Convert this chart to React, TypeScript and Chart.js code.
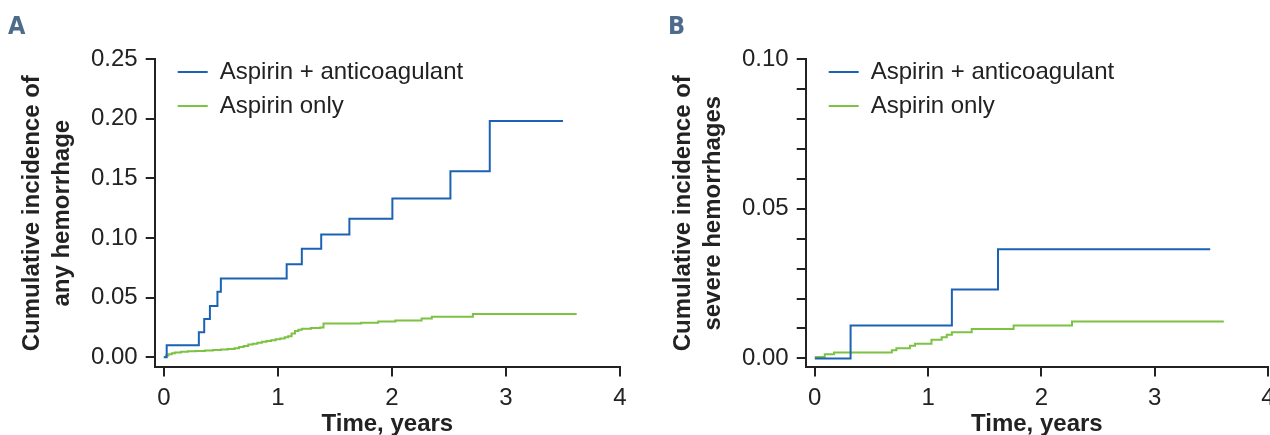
import React, { useEffect, useRef } from 'react';
import { Chart, ChartConfiguration } from 'chart.js/auto';

const seriesNames = ['Aspirin + anticoagulant', 'Aspirin only'];
const seriesColors = ['#1b62b5', '#7cc243'];
const xTicks = [0, 1, 2, 3, 4];

// A: any hemorrhage
const anyComboYears = [0, 0.025, 0.307, 0.354, 0.404, 0.47, 0.5, 1.077, 1.21, 1.38, 1.627, 2.004, 2.513, 2.858, 3.5];
const anyComboInc = [0, 0.0101, 0.021, 0.032, 0.043, 0.055, 0.066, 0.078, 0.091, 0.103, 0.116, 0.133, 0.156, 0.198, 0.198];
const anyAspYears = [0, 0.02, 0.04, 0.07, 0.096, 0.15, 0.21, 0.28, 0.36, 0.43, 0.5, 0.56, 0.62, 0.66, 0.7, 0.74, 0.78, 0.82, 0.86, 0.9, 0.94, 0.98, 1.02, 1.06, 1.09, 1.12, 1.15, 1.18, 1.21, 1.29, 1.37, 1.4, 1.73, 1.88, 2.03, 2.26, 2.35, 2.71, 3.62];
const anyAspInc = [0.0003, 0.0015, 0.0025, 0.0033, 0.004, 0.0046, 0.005, 0.0053, 0.0056, 0.006, 0.0065, 0.007, 0.0076, 0.0085, 0.0095, 0.0107, 0.0114, 0.0122, 0.0129, 0.0136, 0.0143, 0.015, 0.0157, 0.0167, 0.0177, 0.02, 0.0221, 0.023, 0.0238, 0.0245, 0.025, 0.0283, 0.0289, 0.0299, 0.0309, 0.0325, 0.034, 0.0362, 0.0362];
const anyYTicks = [0, 0.05, 0.1, 0.15, 0.2, 0.25];

// B: severe hemorrhages
const sevComboYears = [0, 0.316, 1.21, 1.617, 3.49];
const sevComboInc = [0, 0.011, 0.023, 0.0365, 0.0365];
const sevAspYears = [0, 0.088, 0.17, 0.68, 0.72, 0.84, 0.885, 1.03, 1.12, 1.165, 1.21, 1.385, 1.755, 2.27, 3.61];
const sevAspInc = [0.0005, 0.0014, 0.002, 0.0027, 0.0034, 0.0042, 0.0049, 0.0062, 0.0071, 0.0079, 0.0087, 0.0098, 0.011, 0.0123, 0.0123];
const sevYTicks = [0, 0.01, 0.02, 0.03, 0.04, 0.05, 0.06, 0.07, 0.08, 0.09, 0.1];

const FONT = '"Liberation Sans", Arial, sans-serif';
const INK = '#222';

const zip = (xs: number[], ys: number[]) => xs.map((x, i) => ({ x, y: ys[i] }));

// put the legend inside the plot, top-left, like the original
const legendShift = {
  id: 'legendShift',
  afterLayout(chart: any) {
    const lg = chart.legend;
    if (!lg) return;
    const h = lg.height;
    lg.left += 13;
    lg.right += 13;
    lg.top = chart.chartArea.top - 9;
    lg.bottom = lg.top + h;
  },
};

function makeConfig(
  combo: { x: number; y: number }[],
  asp: { x: number; y: number }[],
  yMin: number,
  yMax: number,
  yTicks: number[],
  yLabel: (v: number, i: number) => string,
  yTitle: string[],
  padLeft: number,
  padRight: number
): ChartConfiguration {
  return {
    type: 'line',
    data: {
      datasets: [
        { label: seriesNames[0], data: combo, borderColor: seriesColors[0], backgroundColor: seriesColors[0], borderWidth: 2, pointRadius: 0, stepped: 'before' },
        { label: seriesNames[1], data: asp, borderColor: seriesColors[1], backgroundColor: seriesColors[1], borderWidth: 2, pointRadius: 0, stepped: 'before' },
      ],
    },
    options: {
      animation: false,
      responsive: true,
      maintainAspectRatio: false,
      events: [],
      layout: { padding: { left: padLeft, right: padRight, top: 59, bottom: 0 } },
      plugins: {
        tooltip: { enabled: false },
        legend: {
          position: 'chartArea',
          align: 'start',
          labels: {
            boxWidth: 30,
            boxHeight: 2,
            padding: 10,
            color: INK,
            font: { size: 24, family: FONT },
            generateLabels: (chart: any) =>
              Chart.defaults.plugins.legend.labels.generateLabels(chart).map((l: any) => ({ ...l, lineWidth: 0 })),
          },
        },
      },
      scales: {
        x: {
          type: 'linear',
          min: -0.08,
          max: 4,
          afterBuildTicks: (axis: any) => { axis.ticks = xTicks.map((v) => ({ value: v })); },
          ticks: { autoSkip: false, color: INK, padding: 8, font: { size: 24, family: FONT }, callback: (v: any) => String(v) },
          grid: { drawOnChartArea: false, drawTicks: true, tickLength: 9, lineWidth: 2, color: INK },
          border: { display: true, width: 2, color: INK },
          title: { display: true, text: 'Time, years', color: INK, padding: { top: -11, bottom: 0 }, font: { size: 24, weight: 'bold', family: FONT } },
        },
        y: {
          type: 'linear',
          min: yMin,
          max: yMax,
          afterBuildTicks: (axis: any) => { axis.ticks = yTicks.map((v) => ({ value: v })); },
          ticks: { autoSkip: false, color: INK, padding: 8, font: { size: 24, family: FONT }, callback: (v: any, i: number) => yLabel(Number(v), i) },
          grid: { drawOnChartArea: false, drawTicks: true, tickLength: 9, lineWidth: 2, color: INK },
          border: { display: true, width: 2, color: INK },
          title: { display: true, text: yTitle, color: INK, padding: { top: 0, bottom: 6 }, font: { size: 24, weight: 'bold', family: FONT, lineHeight: 1.25 } },
        },
      },
    },
    plugins: [legendShift],
  } as ChartConfiguration;
}

const Panel: React.FC<{ config: () => ChartConfiguration; left: number; width: number }> = ({ config, left, width }) => {
  const ref = useRef<HTMLCanvasElement | null>(null);
  useEffect(() => {
    if (!ref.current) return;
    const chart = new Chart(ref.current, config());
    return () => chart.destroy();
  }, []);
  return (
    <div style={{ position: 'absolute', left, top: 0, width, height: 439 }}>
      <canvas ref={ref} />
    </div>
  );
};

const letterStyle: React.CSSProperties = {
  position: 'absolute',
  top: 14,
  fontFamily: '"Liberation Sans Narrow", "DejaVu Sans Condensed", sans-serif',
  fontWeight: 'bold',
  fontSize: 25,
  lineHeight: '24px',
  color: '#4d6b8a',
};

const App: React.FC = () => {
  useEffect(() => {
    Chart.defaults.font.family = FONT;
  }, []);

  const cfgA = () =>
    makeConfig(
      zip(anyComboYears, anyComboInc),
      zip(anyAspYears, anyAspInc),
      -0.0085,
      0.25,
      anyYTicks,
      (v) => v.toFixed(2),
      ['Cumulative incidence of', 'any hemorrhage'],
      17,
      15
    );
  const cfgB = () =>
    makeConfig(
      zip(sevComboYears, sevComboInc),
      zip(sevAspYears, sevAspInc),
      -0.003,
      0.1,
      sevYTicks,
      (v, i) => (i % 5 === 0 ? v.toFixed(2) : ''),
      ['Cumulative incidence of', 'severe hemorrhages'],
      33,
      17
    );

  return (
    <div style={{ position: 'fixed', left: 0, top: 0, width: 1270, height: 435, overflow: 'hidden', background: '#fff' }}>
      <Panel config={cfgA} left={0} width={635} />
      <Panel config={cfgB} left={635} width={650} />
      <div style={{ ...letterStyle, left: 8 }}>A</div>
      <div style={{ ...letterStyle, left: 668 }}>B</div>
    </div>
  );
};

export default App;
